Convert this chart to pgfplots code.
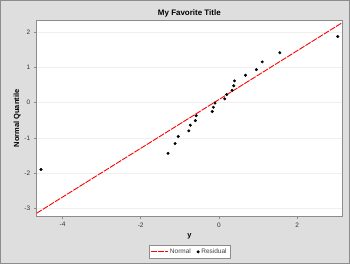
\documentclass[border=0pt]{standalone}
\usepackage{pgfplots}
\pgfplotsset{compat=1.18}
\usepackage{fontspec}
\setmainfont{Liberation Sans}
\definecolor{bg}{HTML}{DEDEDE}
\definecolor{frame}{HTML}{8C8C8C}
\definecolor{gridc}{HTML}{EFEFEF}
\begin{document}
\begin{tikzpicture}[x=1bp,y=1bp]
\fill[bg] (0,0) rectangle (350,264);
\draw[frame,line width=1bp] (0.5,0.5) rectangle (349.5,263.5);
\begin{axis}[
  at={(36.7bp,48bp)}, anchor=south west,
  scale only axis, width=305.3bp, height=195.3bp,
  xmin=-4.66, xmax=3.15, ymin=-3.22, ymax=2.33,
  axis background/.style={fill=white},
  axis line style={frame, line width=0.8bp},
  xtick={-4,-2,0,2}, ytick={-3,-2,-1,0,1,2},
  tick align=outside, tick pos=left,
  major tick length=3bp,
  tick style={frame, line width=0.5bp},
  ymajorgrids, grid style={gridc, line width=0.6bp},
  tick label style={font=\fontsize{6.5}{7}\selectfont, text=black!80},
  /pgf/number format/assume math mode=true,
  title={\textbf{My Favorite Title}},
  title style={font=\fontsize{8}{9}\selectfont, at={(0.5,1)}, anchor=south, yshift=-6bp},
  xlabel={\textbf{y}}, ylabel={\textbf{Normal Quantile}},
  label style={font=\fontsize{7.5}{8}\selectfont},
  xlabel style={yshift=0bp},
  ylabel style={yshift=-3bp},
  legend columns=2,
  legend style={at={(0.5,-0.15)}, anchor=north, draw=frame, line width=0.5bp,
    font=\fontsize{6.5}{7.5}\selectfont, text=black!75, inner sep=1.2bp,
    /tikz/every even column/.append style={column sep=4bp}},
  legend cell align=left,
]
\addplot[red, line width=0.9bp, dash pattern=on 6bp off 1.2bp] coordinates {(-4.66,-3.14) (3.15,2.27)};
\addlegendentry{Normal}
\addplot[only marks, mark=*, mark size=1.3bp, black] coordinates {
(-4.55,-1.90) (-1.30,-1.44) (-1.12,-1.16) (-1.04,-0.96) (-0.77,-0.80)
(-0.73,-0.64) (-0.60,-0.51) (-0.58,-0.37) (-0.17,-0.25) (-0.14,-0.13)
(-0.10,-0.01) (0.15,0.11) (0.20,0.23) (0.34,0.35) (0.38,0.48)
(0.40,0.62) (0.68,0.78) (0.96,0.94) (1.11,1.16) (1.56,1.42) (3.04,1.88)};
\addlegendentry{Residual}
\end{axis}
\end{tikzpicture}
\end{document}
